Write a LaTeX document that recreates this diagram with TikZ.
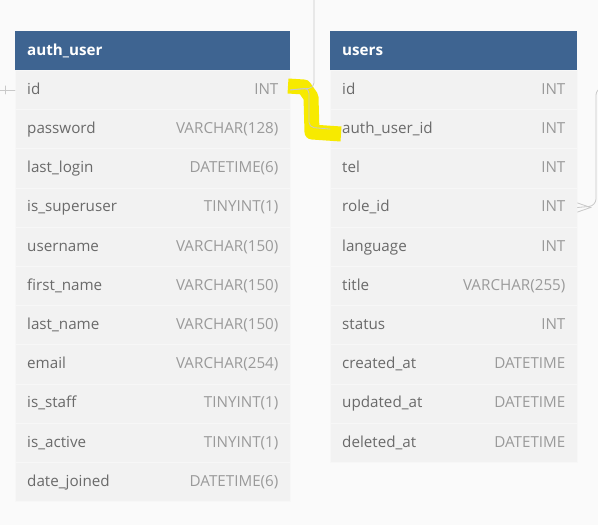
\documentclass[tikz,border=0pt]{standalone}
\usepackage{fontspec}
\setmainfont{Open Sans}
\usetikzlibrary{positioning}
\definecolor{bgc}{HTML}{FAFAFA}
\definecolor{headc}{HTML}{3E6491}
\definecolor{rowc}{HTML}{F2F2F2}
\definecolor{namec}{HTML}{6A6A6A}
\definecolor{typec}{HTML}{9A9A9A}
\definecolor{linkc}{HTML}{C9C9C9}
\definecolor{markc}{HTML}{F7EA00}

\begin{document}
\begin{tikzpicture}[x=1pt, y=-1pt, line cap=round]
  \tikzset{
    head/.style={draw=none, fill=headc, minimum height=39pt, inner sep=0pt, anchor=north west},
    headtxt/.style={text=white, font=\fontsize{15.2}{17}\selectfont\bfseries, inner sep=0pt, anchor=base west},
    row/.style={draw=white!35!rowc, line width=0.6pt, fill=rowc, minimum height=39.2pt, inner sep=0pt, anchor=north west},
    fname/.style={text=namec, font=\fontsize{15.2}{17}\selectfont, inner sep=0pt, anchor=base west},
    ftype/.style={text=typec, font=\fontsize{15.2}{17}\selectfont, inner sep=0pt, anchor=base east},
    link/.style={draw=linkc, line width=0.8pt}
  }
  % achtergrond
  \fill[bgc] (0,0) rectangle (598,525);
  \useasboundingbox (0,0) rectangle (598,525);

  % tabel auth_user
  \node[head, minimum width=275pt] (au) at (15,31) {};
  \node[headtxt] (au-t) at ([xshift=12pt, yshift=-5pt]au.west) {auth\_user};
  \foreach \name/\type [count=\i] in {id/INT, password/VARCHAR(128), last\_login/DATETIME(6),
      is\_superuser/TINYINT(1), username/VARCHAR(150), first\_name/VARCHAR(150),
      last\_name/VARCHAR(150), email/VARCHAR(254), is\_staff/TINYINT(1),
      is\_active/TINYINT(1), date\_joined/DATETIME(6)} {
    \node[row, minimum width=275pt] (au-\i) at (15,{70+(\i-1)*39.2}) {};
    \node[fname] (au-\i-n) at ([xshift=12pt, yshift=-4.4pt]au-\i.west) {\name};
    \node[ftype] (au-\i-t) at ([xshift=-12pt, yshift=-4.4pt]au-\i.east) {\type};
  }

  % tabel users
  \node[head, minimum width=247pt] (us) at (330,31) {};
  \node[headtxt] (us-t) at ([xshift=12pt, yshift=-5pt]us.west) {users};
  \foreach \name/\type [count=\i] in {id/INT, auth\_user\_id/INT, tel/INT, role\_id/INT,
      language/INT, title/VARCHAR(255), status/INT, created\_at/DATETIME,
      updated\_at/DATETIME, deleted\_at/DATETIME} {
    \node[row, minimum width=247pt] (us-\i) at (330,{70+(\i-1)*39.2}) {};
    \node[fname] (us-\i-n) at ([xshift=12pt, yshift=-4.4pt]us-\i.west) {\name};
    \node[ftype] (us-\i-t) at ([xshift=-12pt, yshift=-4.4pt]us-\i.east) {\type};
  }

  % markering
  \draw[markc, line width=15pt, line cap=butt, line join=round]
    (288,86) -- (304,87) -- (311,97) -- (312,132) -- (341,134);

  % relaties
  \coordinate (top) at (314,0);
  \coordinate (lft) at (0,0 |- au-1.west);
  \coordinate (rgt) at (600,88);
  \draw[link, rounded corners=5pt] (au-1.east) -- (309,88) -- (309,127.2) -- (us-2.west);
  \draw[link, rounded corners=5pt] (top) -- (314,88) -- (au-1.east);
  \draw[link] (lft) -- (au-1.west);
  \draw[link] ([xshift=5pt]lft) ++(0,-4) -- ++(0,8);
  \draw[link, rounded corners=7pt] (us-4.east) -- (596,205.8) -- (596,88) -- (rgt);
  \draw[link] ([yshift=-4.5pt]us-4.east) -- ([xshift=13pt]us-4.east) -- ([yshift=4.5pt]us-4.east);
\end{tikzpicture}
\end{document}
